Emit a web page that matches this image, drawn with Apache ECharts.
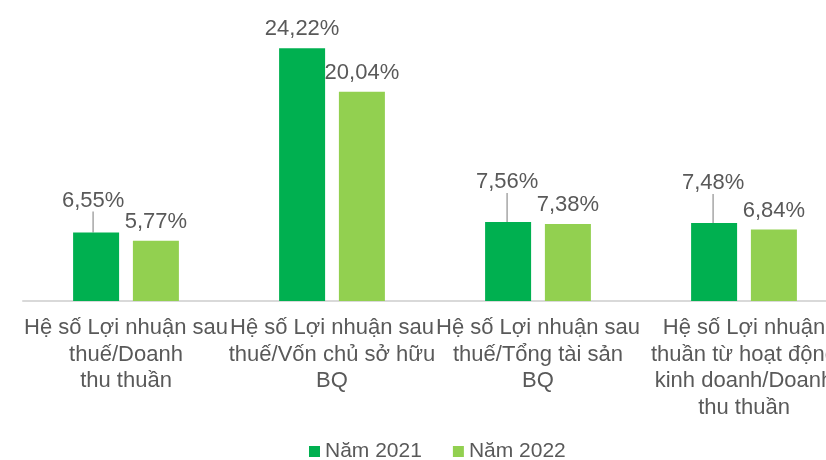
<!DOCTYPE html>
<html>
<head>
<meta charset="utf-8">
<script src="https://cdn.jsdelivr.net/npm/echarts@6/dist/echarts.min.js"></script>
<style>
  html, body { margin: 0; padding: 0; background: #fff; overflow: hidden; }
  /* the plot runs past the right edge of the picture, as in the original */
  #chart { width: 847px; height: 460px; }
</style>
</head>
<body>
<div id="chart"></div>
<script>
// data
const categories = [
  "Hệ số Lợi nhuận sau\nthuế/Doanh\nthu thuần",
  "Hệ số Lợi nhuận sau\nthuế/Vốn chủ sở hữu\nBQ",
  "Hệ số Lợi nhuận sau\nthuế/Tổng tài sản\nBQ",
  "Hệ số Lợi nhuận\nthuần từ hoạt động\nkinh doanh/Doanh\nthu thuần",
];
const seriesNames = ["Năm 2021", "Năm 2022"];
const values2021 = [6.55, 24.22, 7.56, 7.48];
const values2022 = [5.77, 20.04, 7.38, 6.84];

// label shift (px) for the 2021 labels that sit on a leader line
const leaderShift = [-13, 0, -21, -21];
const leaderDx = [-3, 0, -1, -1];

const fontFamily = "'Liberation Sans', Arial, sans-serif";
const textColor = "#595959";

function fmtPct(p) {
  return p.value.toFixed(2).replace(".", ",") + "%";
}

const chart = echarts.init(document.getElementById("chart"));

const option = {
  animation: false,
  textStyle: { fontFamily: fontFamily },
  legend: {
    data: seriesNames,
    left: 304,
    top: 436,
    icon: "rect",
    itemWidth: 11,
    itemHeight: 11,
    itemGap: 31,
    textStyle: { color: textColor, fontSize: 21, fontFamily: fontFamily },
  },
  grid: {
    left: 23,
    right: 0,
    top: 40,
    bottom: 159,
  },
  xAxis: {
    type: "category",
    data: categories,
    axisLine: { lineStyle: { color: "#d9d9d9", width: 2 } },
    axisTick: { show: false },
    axisLabel: {
      interval: 0,
      color: textColor,
      fontSize: 22,
      lineHeight: 26.5,
      margin: 14,
      fontFamily: fontFamily,
    },
  },
  yAxis: {
    type: "value",
    min: 0,
    max: 25,
    show: false,
    splitLine: { show: false },
  },
  series: [
    {
      name: seriesNames[0],
      type: "bar",
      barWidth: 46,
      barGap: "30%",
      itemStyle: { color: "#00B050" },
      label: {
        show: true,
        position: "top",
        distance: 8,
        color: textColor,
        fontSize: 22,
        fontFamily: fontFamily,
        formatter: fmtPct,
      },
      labelLine: {
        show: true,
        lineStyle: { color: "#a6a6a6", width: 1.5 },
      },
      labelLayout: function (params) {
        return { dx: leaderDx[params.dataIndex], dy: leaderShift[params.dataIndex] };
      },
      data: values2021.map((v, i) => ({
        value: v,
        labelLine: { show: leaderShift[i] !== 0 },
      })),
    },
    {
      name: seriesNames[1],
      type: "bar",
      barWidth: 46,
      barGap: "30%",
      itemStyle: { color: "#92D050" },
      label: {
        show: true,
        position: "top",
        distance: 8,
        color: textColor,
        fontSize: 22,
        fontFamily: fontFamily,
        formatter: fmtPct,
      },
      data: values2022,
    },
  ],
};

chart.setOption(option);
</script>
</body>
</html>
